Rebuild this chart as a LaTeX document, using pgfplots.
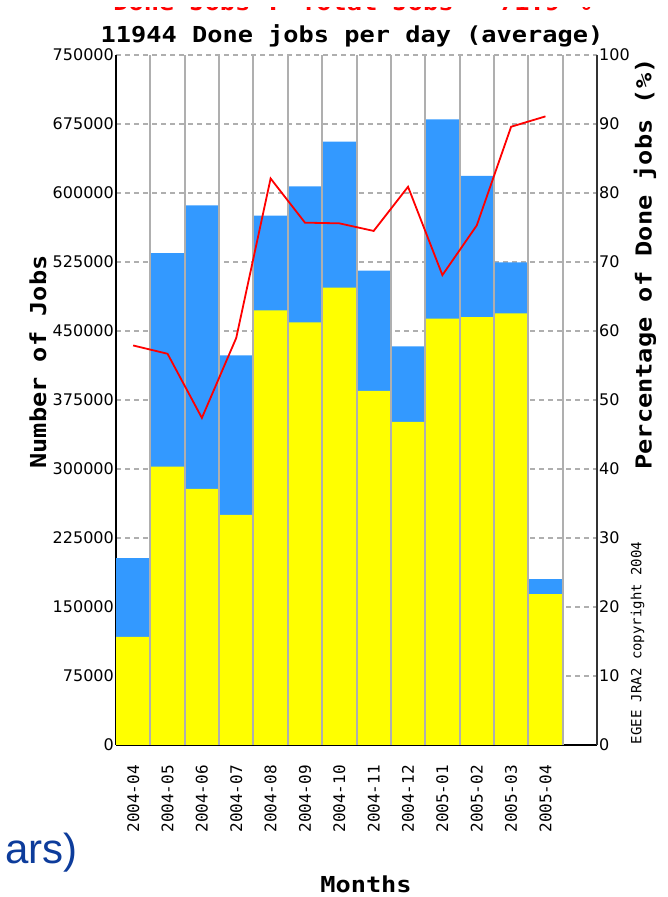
\documentclass[border=0pt]{standalone}
\usepackage{fontspec}
\setmainfont{DejaVu Sans}
\newfontfamily\mono{DejaVu Sans Mono}
\newfontfamily\arialf{Liberation Sans}
\usepackage{pgfplots}
\pgfplotsset{compat=1.18}
\definecolor{barblue}{RGB}{51,153,255}
\definecolor{baryellow}{RGB}{255,255,0}
\definecolor{gridgray}{RGB}{175,175,175}
\definecolor{slideblue}{RGB}{13,60,155}
\newcommand{\wide}[1]{\scalebox{1.15}[1]{#1}}
\newcommand{\bigmono}{\fontsize{22bp}{26bp}\selectfont\mono\bfseries}

\begin{document}
\begin{tikzpicture}[x=1bp,y=1bp]
\useasboundingbox (0,0) rectangle (668,897);
\begin{axis}[
  at={(116bp,152bp)}, anchor=south west,
  scale only axis, width=481bp, height=690bp,
  xmin=0, xmax=14, ymin=0, ymax=750000,
  axis x line*=bottom, axis y line*=left,
  axis line style={black, line width=1.6bp},
  ytick={0,75000,150000,225000,300000,375000,450000,525000,600000,675000,750000},
  scaled y ticks=false,
  yticklabel style={/pgf/number format/fixed, /pgf/number format/1000 sep={}, font=\fontsize{16bp}{18bp}\selectfont, inner sep=2bp},
  /pgf/number format/assume math mode=true,
  xtick={0.5,1.5,2.5,3.5,4.5,5.5,6.5,7.5,8.5,9.5,10.5,11.5,12.5},
  xticklabels={2004-04,2004-05,2004-06,2004-07,2004-08,2004-09,2004-10,2004-11,2004-12,2005-01,2005-02,2005-03,2005-04},
  xticklabel style={rotate=90, anchor=east, font=\mono\fontsize{16bp}{18bp}\selectfont, inner sep=0pt},
  xticklabel shift=20bp,
  major tick length=0pt,
  ymajorgrids,
  major grid style={gridgray, line width=1.3bp, dash pattern=on 4.5bp off 4.5bp},
  ybar, bar width=1,
]
\addplot[fill=barblue, draw=none, bar shift=0pt] coordinates {
 (0.5,203000) (1.5,534500) (2.5,586600) (3.5,423600) (4.5,575400) (5.5,607200) (6.5,655800)
 (7.5,515600) (8.5,433300) (9.5,680100) (10.5,618500) (11.5,524600) (12.5,180400)};
\addplot[fill=baryellow, draw=none, bar shift=0pt] coordinates {
 (0.5,117400) (1.5,302500) (2.5,278300) (3.5,250000) (4.5,472500) (5.5,459400) (6.5,497100)
 (7.5,384800) (8.5,351100) (9.5,463400) (10.5,465200) (11.5,469200) (12.5,164100)};
\pgfplotsinvokeforeach{1,...,13}{
  \draw[gridgray, line width=2bp] (axis cs:#1,0) -- (axis cs:#1,750000);
}
\end{axis}
\begin{axis}[
  at={(116bp,152bp)}, anchor=south west,
  scale only axis, width=481bp, height=690bp,
  xmin=0, xmax=14, ymin=0, ymax=100,
  axis x line=none, axis y line*=right,
  axis line style={black!80, line width=1.6bp},
  ytick={0,10,20,30,40,50,60,70,80,90,100},
  major tick length=0pt,
  /pgf/number format/assume math mode=true,
  yticklabel style={font=\fontsize{16bp}{18bp}\selectfont, inner sep=2bp},
]
\addplot[red, line width=1.8bp, mark=none] coordinates {
 (0.5,57.9) (1.5,56.7) (2.5,47.4) (3.5,59.0) (4.5,82.1) (5.5,75.7) (6.5,75.6)
 (7.5,74.5) (8.5,80.9) (9.5,68.1) (10.5,75.3) (11.5,89.6) (12.5,91.1)};
\end{axis}
% texts
\node[anchor=base, inner sep=0pt, red] at (352,886) {\bigmono\wide{Done Jobs : Total Jobs = 71.9 \%}};
\fill[white] (0,889.5) rectangle (668,897);
\node[anchor=base, inner sep=0pt] at (352,854) {\bigmono\wide{11944 Done jobs per day (average)}};
\node[rotate=90, inner sep=0pt] at (38,535) {\bigmono\wide{Number of Jobs}};
\node[rotate=90, inner sep=0pt] at (645,633) {\bigmono\wide{Percentage of Done jobs (\%)}};
\node[anchor=base, inner sep=0pt] at (366,4) {\bigmono\wide{Months}};
\node[rotate=90, inner sep=0pt] at (637.5,254) {\mono\fontsize{14bp}{16bp}\selectfont EGEE JRA2 copyright 2004};
\node[anchor=base east, inner sep=0pt, text=slideblue] at (78,33) {\arialf\fontsize{42bp}{48bp}\selectfont ars)};
\end{tikzpicture}
\end{document}
